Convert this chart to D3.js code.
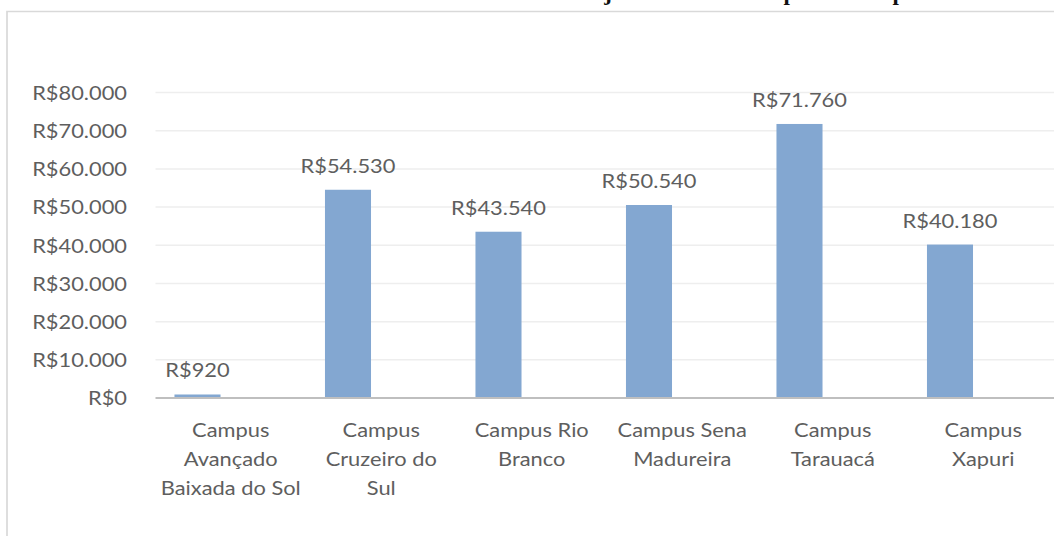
<!DOCTYPE html>
<html>
<head>
<meta charset="utf-8">
<script src="https://cdn.jsdelivr.net/npm/d3@7"></script>
<style>
  html, body { margin: 0; padding: 0; background: #fff; }
  svg { display: block; }
  .lbl { font-family: Lato, "Open Sans", sans-serif; font-size: 19px; font-weight: 400; fill: #5e5e5e; }
</style>
</head>
<body>
<svg id="chart"></svg>
<script>
// data
const categories = [
  "Campus Avançado Baixada do Sol",
  "Campus Cruzeiro do Sul",
  "Campus Rio Branco",
  "Campus Sena Madureira",
  "Campus Tarauacá",
  "Campus Xapuri"
];
const categoryLines = [
  ["Campus", "Avançado", "Baixada do Sol"],
  ["Campus", "Cruzeiro do", "Sul"],
  ["Campus Rio", "Branco"],
  ["Campus Sena", "Madureira"],
  ["Campus", "Tarauacá"],
  ["Campus", "Xapuri"]
];
const values = [920, 54530, 43540, 50540, 71760, 40180];
const yTicks = [0, 10000, 20000, 30000, 40000, 50000, 60000, 70000, 80000];
// bits of the clipped line of text above the chart
const topFragments = ["j", "p", "p"];
const topFragmentX = [608, 790, 899];

// the picture is stretched sideways, so draw in a narrower space and stretch
const sx = 1.15;
const W = 1054, H = 536;
const X = v => v / sx;

const svg = d3.select("#chart")
  .attr("width", W)
  .attr("height", H)
  .attr("viewBox", `0 0 ${W / sx} ${H}`)
  .attr("preserveAspectRatio", "none");

const brl = d3.formatLocale({ decimal: ",", thousands: ".", grouping: [3], currency: ["R$", ""] });
const fmt = brl.format("$,.0f");

const plotLeft = 155.5, step = 150.5;

const x = d3.scaleBand()
  .domain(categories)
  .range([X(plotLeft), X(plotLeft + step * categories.length)])
  .padding(0);

const y = d3.scaleLinear()
  .domain([0, 80000])
  .range([398, 92.5]);

// outer frame
svg.append("rect")
  .attr("x", X(7))
  .attr("y", 11.5)
  .attr("width", X(W + 20))
  .attr("height", H + 20)
  .attr("fill", "none")
  .attr("stroke", "#d9d9d9")
  .attr("stroke-width", 1.5);

// clipped text at the very top
svg.selectAll(".frag")
  .data(topFragments)
  .enter()
  .append("text")
    .attr("class", "frag")
    .attr("x", (d, i) => X(topFragmentX[i]))
    .attr("y", -0.5)
    .attr("text-anchor", "middle")
    .style("font-family", "'Liberation Serif', serif")
    .style("font-size", "20px")
    .style("font-weight", "bold")
    .attr("fill", "#111")
    .text(d => d);

// gridlines
svg.selectAll(".grid")
  .data(yTicks.filter(t => t > 0))
  .enter()
  .append("line")
    .attr("class", "grid")
    .attr("x1", X(plotLeft))
    .attr("x2", X(W))
    .attr("y1", d => y(d))
    .attr("y2", d => y(d))
    .attr("stroke", "#eeeeee")
    .attr("stroke-width", 1.5);

// y axis labels
const yAxis = svg.append("g")
  .attr("transform", `translate(${X(plotLeft)},0)`)
  .call(d3.axisLeft(y).tickValues(yTicks).tickSize(0).tickPadding(X(28.5)).tickFormat(fmt));
yAxis.select(".domain").remove();
yAxis.selectAll("text")
  .attr("class", "lbl")
  .attr("fill", null)
  .attr("font-family", null)
  .attr("font-size", null)
  .attr("dy", "0.36em");

// bars
const barOffset = 0.126, barWidth = 0.306;
svg.selectAll(".bar")
  .data(values)
  .enter()
  .append("rect")
    .attr("class", "bar")
    .attr("x", (d, i) => x(categories[i]) + x.bandwidth() * barOffset)
    .attr("width", x.bandwidth() * barWidth)
    .attr("y", d => y(d))
    .attr("height", d => y(0) - y(d))
    .attr("fill", "#83a7d1");

// baseline
svg.append("line")
  .attr("x1", X(plotLeft))
  .attr("x2", X(W))
  .attr("y1", y(0))
  .attr("y2", y(0))
  .attr("stroke", "#bfbfbf")
  .attr("stroke-width", 2);

// data labels
svg.selectAll(".val")
  .data(values)
  .enter()
  .append("text")
    .attr("class", "lbl val")
    .attr("x", (d, i) => x(categories[i]) + x.bandwidth() * (barOffset + barWidth / 2))
    .attr("y", d => y(d) - 17)
    .attr("text-anchor", "middle")
    .text(d => fmt(d));

// category labels
svg.selectAll(".cat")
  .data(categoryLines)
  .enter()
  .append("text")
    .attr("class", "lbl cat")
    .attr("text-anchor", "middle")
    .each(function(lines, i) {
      const t = d3.select(this);
      lines.forEach((ln, k) => {
        t.append("tspan")
          .attr("x", x(categories[i]) + x.bandwidth() / 2)
          .attr("y", 437 + k * 29)
          .text(ln);
      });
    });
</script>
</body>
</html>
